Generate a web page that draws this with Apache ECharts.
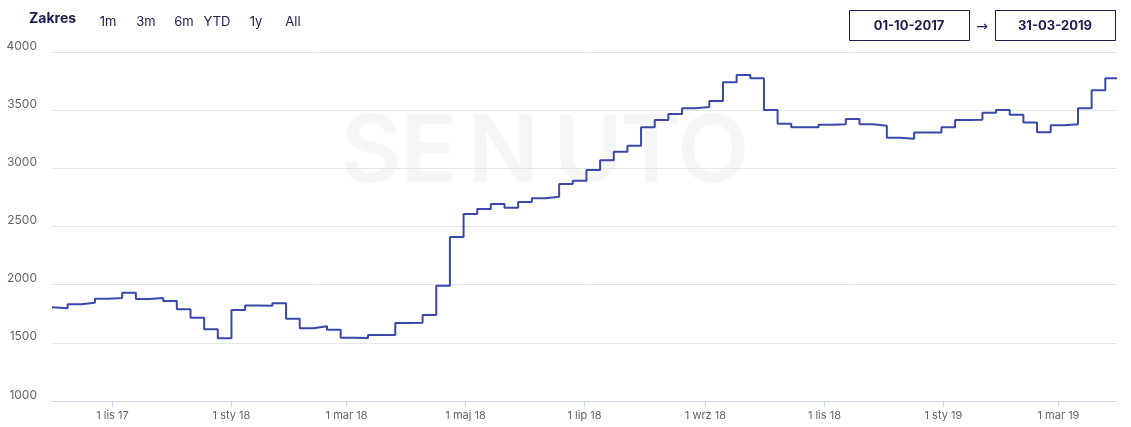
<!DOCTYPE html>
<html>
<head>
<meta charset="utf-8">
<script src="https://cdn.jsdelivr.net/npm/echarts@6/dist/echarts.min.js"></script>
<style>html,body{margin:0;padding:0;background:#fff}#c{width:1131px;height:427px}</style>
</head>
<body>
<div id="c"></div>
<script>
// first day value, then weekly values starting Monday 2017-10-02
const startDay = [2017, 9, 1];
const startValue = 1805;
const weekStart = [2017, 9, 2];
const weeklyValues = [
  1797, 1831, 1845, 1880, 1885, 1931, 1877, 1885, 1860, 1788,
  1716, 1616, 1539, 1782, 1820, 1818, 1840, 1708, 1625, 1642,
  1613, 1544, 1541, 1567, 1567, 1670, 1672, 1739, 1991, 2410,
  2607, 2650, 2693, 2662, 2711, 2742, 2756, 2865, 2894, 2986,
  3069, 3143, 3195, 3353, 3416, 3467, 3516, 3527, 3579, 3739,
  3802, 3774, 3501, 3384, 3353, 3353, 3375, 3378, 3424, 3378,
  3367, 3263, 3255, 3307, 3307, 3353, 3416, 3418, 3478, 3501,
  3461, 3393, 3310, 3370, 3378, 3516, 3671, 3774
];
const endDay = [2019, 2, 31];
const tickDates = [[2017,10,1],[2018,0,1],[2018,2,1],[2018,4,1],[2018,6,1],[2018,8,1],[2018,10,1],[2019,0,1],[2019,2,1]];
const tickLabels = ['1 lis 17','1 sty 18','1 mar 18','1 maj 18','1 lip 18','1 wrz 18','1 lis 18','1 sty 19','1 mar 19'];
const yTicks = [1000, 1500, 2000, 2500, 3000, 3500, 4000];
const rangeButtons = ['1m', '3m', '6m', 'YTD', '1y', 'All'];
const rangeFrom = '01-10-2017';
const rangeTo = '31-03-2019';

const ts = d => new Date(d[0], d[1], d[2]).getTime();
const DAY = 86400000;
const data = [[ts(startDay), startValue]];
weeklyValues.forEach((v, i) => data.push([ts(weekStart) + i * 7 * DAY, v]));
data.push([ts(endDay), weeklyValues[weeklyValues.length - 1]]);
const tickTs = tickDates.map(ts);

const FONT = 'Inter, "Noto Sans", sans-serif';
const navy = '#1c1c50';
const btnX = [108, 146, 184, 217, 256, 293];
const graphics = [
  {type:'text', left: 29, top: 12, z: 10, style:{text:'Zakres', font:'bold 14px ' + FONT, fill: navy}},
];
rangeButtons.forEach((b, i) => graphics.push({type:'text', x: btnX[i], y: 22, z: 10,
  style:{text:b, font:'13px ' + FONT, fill: navy, textAlign:'center', textVerticalAlign:'middle'}}));
graphics.push(
  {type:'rect', shape:{x:849.5, y:10.5, width:120, height:30}, z:10, style:{fill:'#fff', stroke: navy, lineWidth:1}},
  {type:'text', x:909, y:26, z:11, style:{text:rangeFrom, font:'bold 13px ' + FONT, fill: navy, textAlign:'center', textVerticalAlign:'middle'}},
  {type:'text', x:982, y:27, z:11, style:{text:'→', font:'14px "DejaVu Sans", sans-serif', fill: navy, textAlign:'center', textVerticalAlign:'middle'}},
  {type:'rect', shape:{x:995.5, y:10.5, width:120, height:30}, z:10, style:{fill:'#fff', stroke: navy, lineWidth:1}},
  {type:'text', x:1055, y:26, z:11, style:{text:rangeTo, font:'bold 13px ' + FONT, fill: navy, textAlign:'center', textVerticalAlign:'middle'}}
);
const wm = [['S',371],['E',429],['N',503],['U',588],['T',651],['O',713]];
wm.forEach(([ch, x]) => graphics.push({type:'text', x: x, y: 154, z: -10, silent:true,
  style:{text: ch, font:'600 94px ' + FONT, fill:'#f6f6f6', textAlign:'center', textVerticalAlign:'middle'}}));

const chart = echarts.init(document.getElementById('c'));
chart.setOption({
  animation: false,
  graphic: graphics,
  grid: {left: 52, right: 14, top: 52, bottom: 26, containLabel: false},
  xAxis: {
    type: 'value', min: ts(startDay), max: ts(endDay),
    axisLine: {show: true, lineStyle: {color: '#ccd6eb'}},
    axisTick: {show: true, length: 6, lineStyle: {color: '#ccd6eb'}, customValues: tickTs},
    axisLabel: {customValues: tickTs, color: '#666', fontSize: 11, fontFamily: FONT, margin: 9,
      formatter: v => { const i = tickTs.indexOf(v); return i >= 0 ? tickLabels[i] : ''; }},
    splitLine: {show: false}
  },
  yAxis: {
    type: 'value', min: yTicks[0], max: yTicks[yTicks.length - 1], interval: 500,
    axisLine: {show: false}, axisTick: {show: false},
    axisLabel: {color: '#666', fontSize: 12, fontFamily: FONT, margin: 15, verticalAlign: 'bottom',
      formatter: v => String(v)},
    splitLine: {lineStyle: {color: '#e6e6e6'}}
  },
  series: [{
    type: 'line', step: 'end', data: data, showSymbol: false, symbol: 'none',
    lineStyle: {color: '#3949ab', width: 2}, z: 5
  }]
});
</script>
</body>
</html>
